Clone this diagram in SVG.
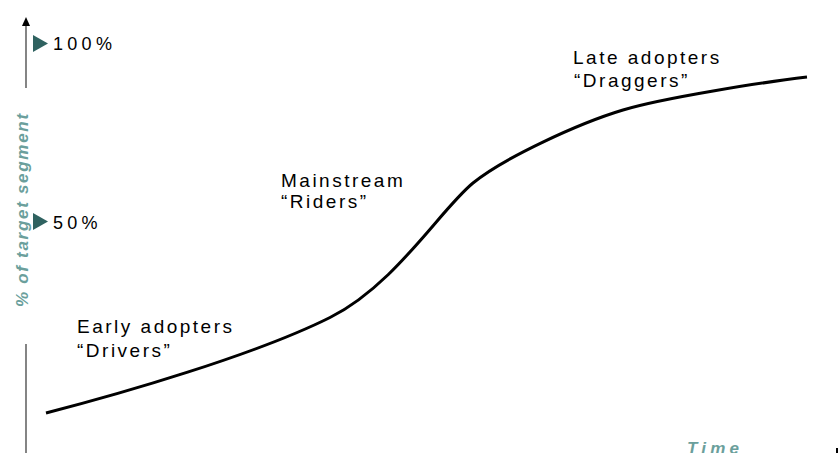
<svg xmlns="http://www.w3.org/2000/svg" width="839" height="453" viewBox="0 0 839 453">
<style>
.lbl{font-family:"Liberation Sans",Arial,sans-serif;font-size:19px;letter-spacing:2.5px;fill:#000}
.pct{font-family:"Liberation Sans",Arial,sans-serif;font-size:18px;letter-spacing:4.3px;fill:#000}
.ax{font-family:"Liberation Sans",Arial,sans-serif;font-size:17px;font-weight:bold;font-style:italic;fill:#6b9f9c}
.mk{fill:#2f6260}
.axis{stroke:#333;stroke-width:1.2;fill:none}
</style>
<rect width="839" height="453" fill="#fff"/>
<g id="connectors">
<line class="axis" x1="26" y1="88" x2="26" y2="26"/>
<path d="M22,26 L26,17 L30,26 Z" fill="#000"/>
<line class="axis" x1="26" y1="344" x2="26" y2="453"/>
<path id="curve" d="M46,413 C120,394 255,355 330,317.5 C395,285 440,210 473,183 C503,158.4 578,123.5 623,110 C663,98 762,82.4 807,77" fill="none" stroke="#000" stroke-width="3"/>
</g>
<g id="y-axis-label">
<text class="ax" transform="translate(28,307) rotate(-90)" letter-spacing="1.7">% of target segment</text>
</g>
<g id="x-axis-label">
<text class="ax" x="687" y="454" letter-spacing="4.2">Time</text>
</g>
<g id="tick-100">
<polygon class="mk" points="33,35 48,43.5 33,52"/>
<text class="pct" x="53" y="50">100%</text>
</g>
<g id="tick-50">
<polygon class="mk" points="33,213 48,221.5 33,230"/>
<text class="pct" x="53" y="229">50%</text>
</g>
<g id="early">
<text class="lbl" x="77" y="333">Early adopters</text>
<text class="lbl" x="77" y="357">“Drivers”</text>
</g>
<g id="mainstream">
<text class="lbl" x="281" y="187">Mainstream</text>
<text class="lbl" x="281" y="208">“Riders”</text>
</g>
<g id="late">
<text class="lbl" x="573" y="64">Late adopters</text>
<text class="lbl" x="574" y="87">“Draggers”</text>
</g>
<rect x="836" y="448" width="2" height="5" fill="#000"/>
</svg>
